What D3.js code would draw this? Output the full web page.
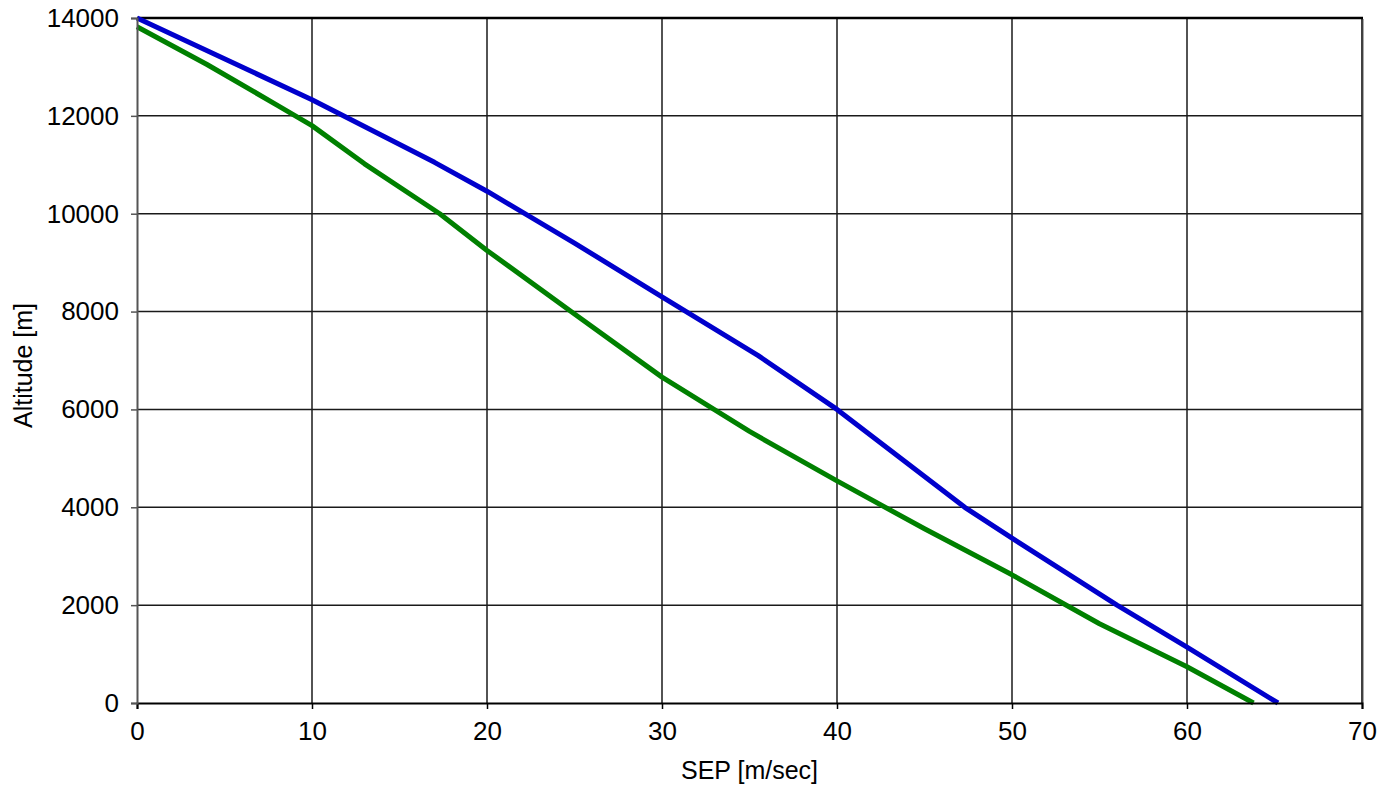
<!DOCTYPE html>
<html>
<head>
<meta charset="utf-8">
<script src="https://cdnjs.cloudflare.com/ajax/libs/d3/7.8.5/d3.min.js"></script>
<style>
  body { margin: 0; background: #fff; }
  text { font-family: "Liberation Sans", Arial, sans-serif; }
</style>
</head>
<body>
<div id="chart"></div>
<script>
// SEP values (x) and altitudes (y)
var blueSep = [0, 10, 17, 20, 25, 30, 35.5, 40, 47.3, 50, 56, 60, 65.2];
var blueAlt = [14000, 12330, 11050, 10460, 9400, 8300, 7100, 6000, 4000, 3370, 2000, 1140, 0];

var greenSep = [0, 4, 8, 10, 13, 17.3, 20, 25, 30, 35, 40, 45, 50, 55, 60, 63.8];
var greenAlt = [13820, 13050, 12220, 11800, 11020, 10000, 9250, 7950, 6660, 5550, 4540, 3560, 2620, 1620, 740, 0];

var xTicks = [0, 10, 20, 30, 40, 50, 60, 70];
var yTicks = [0, 2000, 4000, 6000, 8000, 10000, 12000, 14000];

var margin = {top: 18, right: 18, bottom: 88, left: 137},
    width = 1362 - margin.left,
    height = 703 - margin.top;

var svg = d3.select("#chart")
            .append("svg")
              .attr("width", 1380)
              .attr("height", 791)
            .append("g")
              .attr("transform", "translate(" + margin.left + "," + margin.top + ")");

var x = d3.scaleLinear().domain([0, 70]).range([0, width]);
var y = d3.scaleLinear().domain([0, 14000]).range([height, 0]);

// grid
svg.append("g")
    .selectAll("line.vgrid")
    .data(xTicks.slice(1, -1))
    .enter().append("line")
      .attr("x1", function(d) { return x(d); })
      .attr("x2", function(d) { return x(d); })
      .attr("y1", 0)
      .attr("y2", height)
      .attr("stroke", "#1a1a1a")
      .attr("stroke-width", 1.5);

svg.append("g")
    .selectAll("line.hgrid")
    .data(yTicks.slice(1, -1))
    .enter().append("line")
      .attr("x1", 0)
      .attr("x2", width)
      .attr("y1", function(d) { return y(d); })
      .attr("y2", function(d) { return y(d); })
      .attr("stroke", "#1a1a1a")
      .attr("stroke-width", 1.5);

// top and right border
svg.append("line")
    .attr("x1", 0).attr("x2", width + 1)
    .attr("y1", 0).attr("y2", 0)
    .attr("stroke", "#000").attr("stroke-width", 2.5);
svg.append("line")
    .attr("x1", width).attr("x2", width)
    .attr("y1", 0).attr("y2", height)
    .attr("stroke", "#000").attr("stroke-width", 1.5);
svg.append("line")
    .attr("x1", width + 1.5).attr("x2", width + 1.5)
    .attr("y1", 1).attr("y2", height)
    .attr("stroke", "#aaa").attr("stroke-width", 1);

// lines
var line = d3.line()
             .x(function(d) { return x(d[0]); })
             .y(function(d) { return y(d[1]); });

svg.append("path")
    .datum(greenSep.map(function(s, i) { return [s, greenAlt[i]]; }))
    .attr("fill", "none")
    .attr("stroke", "#008000")
    .attr("stroke-width", 5)
    .attr("stroke-linejoin", "round")
    .attr("d", line);

svg.append("path")
    .datum(blueSep.map(function(s, i) { return [s, blueAlt[i]]; }))
    .attr("fill", "none")
    .attr("stroke", "#0000cc")
    .attr("stroke-width", 5)
    .attr("stroke-linejoin", "round")
    .attr("d", line);

// axes
var xAxis = d3.axisBottom(x).tickValues(xTicks).tickSize(6).tickPadding(13).tickFormat(d3.format("d"));
var yAxis = d3.axisLeft(y).tickValues(yTicks).tickSize(6).tickPadding(12).tickFormat(d3.format("d"));

var gx = svg.append("g")
    .attr("transform", "translate(0," + height + ")")
    .call(xAxis);
gx.select(".domain").attr("stroke", "#000").attr("stroke-width", 2);
gx.selectAll(".tick line").attr("stroke", "#000").attr("stroke-width", 1.5);
gx.selectAll("text").attr("font-size", "26px").attr("fill", "#000");

var gy = svg.append("g").call(yAxis);
gy.select(".domain").attr("stroke", "#555").attr("stroke-width", 2);
gy.selectAll(".tick line").attr("stroke", "#555").attr("stroke-width", 1.5);
gy.selectAll("text").attr("font-size", "26px").attr("fill", "#000");

// axis titles
svg.append("text")
    .attr("x", x(35))
    .attr("y", height + 76)
    .attr("text-anchor", "middle")
    .attr("font-size", "25px")
    .text("SEP [m/sec]");

svg.append("text")
    .attr("transform", "translate(" + (-margin.left + 32) + "," + (y(7000) + 5) + ") rotate(-90)")
    .attr("text-anchor", "middle")
    .attr("font-size", "25px")
    .text("Altitude [m]");
</script>
</body>
</html>
